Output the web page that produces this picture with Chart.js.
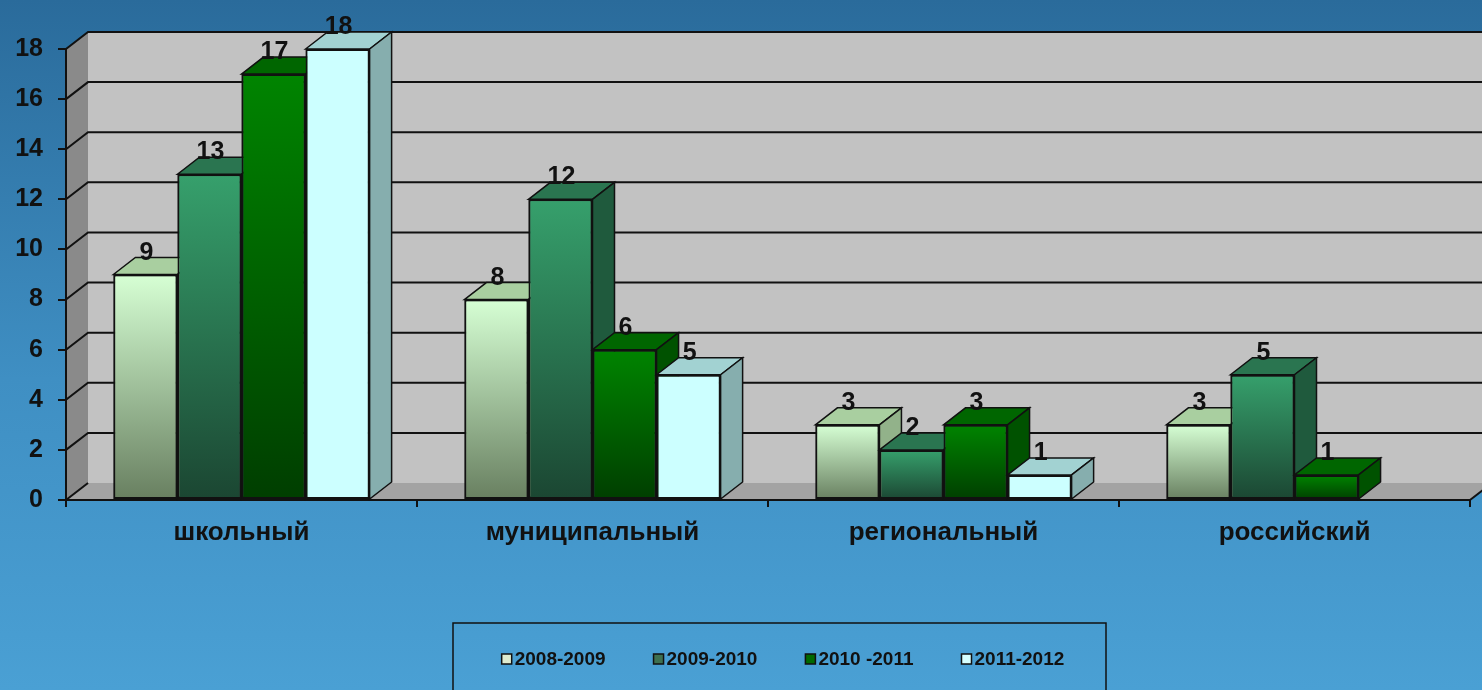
<!DOCTYPE html>
<html>
<head>
<meta charset="utf-8">
<script src="https://cdn.jsdelivr.net/npm/chart.js@4/dist/chart.umd.min.js"></script>
<style>
  html, body { margin: 0; padding: 0; background: #3d8cc0; }
  #wrap { width: 1482px; height: 690px; }
</style>
</head>
<body>
<div id="wrap"><canvas id="chart" width="1482" height="690"></canvas></div>
<script>
const categories = ['школьный', 'муниципальный', 'региональный', 'российский'];
const seriesNames = ['2008-2009', '2009-2010', '2010 -2011', '2011-2012'];
const s2008 = [9, 8, 3, 3];
const s2009 = [13, 12, 2, 5];
const s2010 = [17, 6, 3, 1];
const s2011 = [18, 5, 1, null];
const yMax = 18;
const yStep = 2;

// front gradient (top, bottom), top face, side face, legend swatch
const palette = [
  { top: '#d6ffd4', bottom: '#687f60', lid: '#a9cfa0', side: '#92b28a', swatch: '#dfeccf' },
  { top: '#36a06c', bottom: '#1b4632', lid: '#2a7550', side: '#1f5a3d', swatch: '#3d7050' },
  { top: '#008400', bottom: '#003e00', lid: '#006600', side: '#005200', swatch: '#006a00' },
  { top: '#ccffff', bottom: '#ccffff', lid: '#a2d2d2', side: '#86aeae', swatch: '#d6ffff' }
];

const DX = 22, DY = 17;
const FONT = '"Liberation Sans", Arial, sans-serif';

function frontFill(c, i) {
  const p = palette[i];
  const chart = c.chart;
  if (!chart.chartArea || c.type !== 'data' || c.raw == null) return p.top;
  const ys = chart.scales.y;
  const g = chart.ctx.createLinearGradient(0, ys.getPixelForValue(c.raw), 0, ys.getPixelForValue(0));
  g.addColorStop(0, p.top);
  g.addColorStop(1, p.bottom);
  return g;
}

const room3d = {
  id: 'room3d',
  beforeDraw(chart) {
    const { ctx, width, height } = chart;
    const { left, right, top, bottom } = chart.chartArea;
    ctx.save();
    const bg = ctx.createLinearGradient(0, 0, 0, height);
    bg.addColorStop(0, '#2a6b9b');
    bg.addColorStop(0.55, '#3f8fc3');
    bg.addColorStop(1, '#4aa0d4');
    ctx.fillStyle = bg;
    ctx.fillRect(0, 0, width, height);

    // back wall
    ctx.fillStyle = '#c2c2c2';
    ctx.fillRect(left + DX, top - DY, right - left, bottom - top);
    // left wall
    ctx.fillStyle = '#8a8a8a';
    ctx.beginPath();
    ctx.moveTo(left, top); ctx.lineTo(left + DX, top - DY);
    ctx.lineTo(left + DX, bottom - DY); ctx.lineTo(left, bottom);
    ctx.closePath(); ctx.fill();
    // floor
    ctx.fillStyle = '#a3a3a3';
    ctx.beginPath();
    ctx.moveTo(left, bottom); ctx.lineTo(left + DX, bottom - DY);
    ctx.lineTo(right + DX, bottom - DY); ctx.lineTo(right, bottom);
    ctx.closePath(); ctx.fill();

    // grid lines along the walls
    const ys = chart.scales.y;
    ctx.strokeStyle = '#111';
    ctx.lineWidth = 2;
    ys.ticks.forEach(t => {
      const py = ys.getPixelForValue(t.value);
      ctx.beginPath();
      ctx.moveTo(left, py);
      ctx.lineTo(left + DX, py - DY);
      if (t.value > 0) ctx.lineTo(right + DX, py - DY);
      ctx.stroke();
    });
    // right edge of the floor
    ctx.beginPath();
    ctx.moveTo(right, bottom); ctx.lineTo(right + DX, bottom - DY);
    ctx.stroke();
    ctx.restore();
  },
  afterDatasetsDraw(chart) {
    const { ctx } = chart;
    const metas = chart.data.datasets.map((d, i) => chart.getDatasetMeta(i));
    ctx.save();
    ctx.lineWidth = 1.5;
    ctx.strokeStyle = '#111';
    categories.forEach((cat, i) => {
      metas.forEach((meta, d) => {
        const v = chart.data.datasets[d].data[i];
        if (v == null) return;
        const el = meta.data[i];
        const x0 = el.x - el.width / 2, x1 = el.x + el.width / 2;
        const yt = el.y, yb = el.base;
        // top face
        ctx.fillStyle = palette[d].lid;
        ctx.beginPath();
        ctx.moveTo(x0, yt); ctx.lineTo(x0 + DX, yt - DY);
        ctx.lineTo(x1 + DX, yt - DY); ctx.lineTo(x1, yt);
        ctx.closePath(); ctx.fill(); ctx.stroke();
        // right side face
        ctx.fillStyle = palette[d].side;
        ctx.beginPath();
        ctx.moveTo(x1, yt); ctx.lineTo(x1 + DX, yt - DY);
        ctx.lineTo(x1 + DX, yb - DY); ctx.lineTo(x1, yb);
        ctx.closePath(); ctx.fill(); ctx.stroke();
        // front face again on top
        el.draw(ctx);
      });
    });
    // value labels
    ctx.fillStyle = '#111';
    ctx.font = 'bold 25px ' + FONT;
    ctx.textAlign = 'center';
    ctx.textBaseline = 'alphabetic';
    metas.forEach((meta, d) => {
      chart.data.datasets[d].data.forEach((v, i) => {
        if (v == null) return;
        const el = meta.data[i];
        ctx.fillText(String(v), el.x + 1, el.y - DY + 2);
      });
    });
    ctx.restore();
  },
  afterDraw(chart) {
    const { ctx } = chart;
    ctx.save();
    // legend frame
    ctx.strokeStyle = '#111';
    ctx.lineWidth = 1.5;
    ctx.strokeRect(453, 623, 653, 80);
    ctx.font = 'bold 19px ' + FONT;
    ctx.textBaseline = 'middle';
    ctx.textAlign = 'left';
    const box = 10, gapBox = 3, gapItem = 48;
    const widths = chart.data.datasets.map(ds => box + gapBox + ctx.measureText(ds.label).width);
    const total = widths.reduce((a, b) => a + b, 0) + gapItem * (widths.length - 1);
    let x = 783 - total / 2;
    const cy = 659;
    chart.data.datasets.forEach((ds, d) => {
      ctx.fillStyle = palette[d].swatch;
      ctx.fillRect(x, cy - box / 2, box, box);
      ctx.strokeRect(x, cy - box / 2, box, box);
      ctx.fillStyle = '#111';
      ctx.fillText(ds.label, x + box + gapBox, cy + 1);
      x += widths[d] + gapItem;
    });
    ctx.restore();
  }
};

const seriesData = [s2008, s2009, s2010, s2011];

new Chart(document.getElementById('chart'), {
  type: 'bar',
  data: {
    labels: categories,
    datasets: seriesData.map((arr, i) => ({
      label: seriesNames[i],
      data: arr,
      backgroundColor: c => frontFill(c, i),
      borderColor: '#111',
      borderWidth: 2,
      borderSkipped: false,
      categoryPercentage: 0.73,
      barPercentage: 1
    }))
  },
  options: {
    responsive: false,
    animation: false,
    events: [],
    layout: { padding: { top: 49, right: 12, bottom: 0, left: 0 } },
    plugins: {
      legend: { display: false },
      tooltip: { enabled: false }
    },
    scales: {
      x: {
        afterFit: s => { s.height = 190; },
        grid: { drawOnChartArea: false, offset: true, tickLength: 7, color: '#111', lineWidth: 2 },
        border: { display: true, color: '#111', width: 2 },
        ticks: { color: '#111', padding: 10, font: { family: FONT, size: 26, weight: 'bold' } }
      },
      y: {
        min: 0,
        max: yMax,
        afterFit: s => { s.width = 66; },
        grid: { drawOnChartArea: false, tickLength: 8, color: '#111', lineWidth: 2 },
        border: { display: true, color: '#111', width: 2 },
        ticks: { stepSize: yStep, color: '#111', padding: 15, font: { family: FONT, size: 25, weight: 'bold' } }
      }
    }
  },
  plugins: [room3d]
});
</script>
</body>
</html>
